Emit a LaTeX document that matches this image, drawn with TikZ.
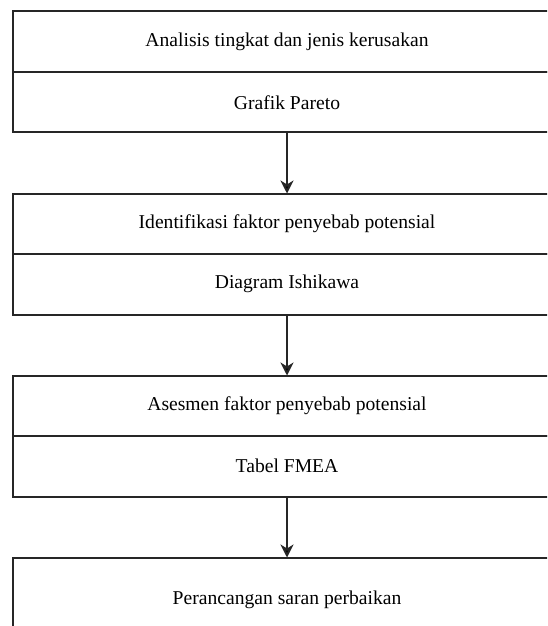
\documentclass[tikz,border=0pt]{standalone}
\usepackage{fontspec}
\setmainfont{Liberation Serif}
\usepackage{tikz}
\usetikzlibrary{arrows.meta,positioning}

\begin{document}
\begin{tikzpicture}[->,>={Stealth[length=6.5pt,width=6.5pt,inset=2pt]},x=0.5pt,y=-0.5pt,
                    line width=1pt,node distance=30.5pt]
  \tikzstyle{part}=[draw=black!85,-,minimum width=274pt,minimum height=30.25pt,
                    inner sep=0pt,outer sep=0pt,font=\fontsize{9.8}{12}\selectfont]

  \useasboundingbox (0,0) rectangle (547,626);
  \clip (0,0) rectangle (547,626);

  \node[part] (a1) at (287,41.75) {Analisis tingkat dan jenis kerusakan};
  \node[part] (a2) [below=0pt of a1] {Grafik Pareto};
  \node[part] (b1) [below=of a2] {Identifikasi faktor penyebab potensial};
  \node[part] (b2) [below=0pt of b1] {Diagram Ishikawa};
  \node[part] (c1) [below=of b2] {Asesmen faktor penyebab potensial};
  \node[part] (c2) [below=0pt of c1] {Tabel FMEA};
  \node[part,minimum height=42pt] (d1) [below=of c2] {Perancangan saran perbaikan};

  \path[draw=black!85] (a2) edge (b1)
                       (b2) edge (c1)
                       (c2) edge (d1);
\end{tikzpicture}
\end{document}
